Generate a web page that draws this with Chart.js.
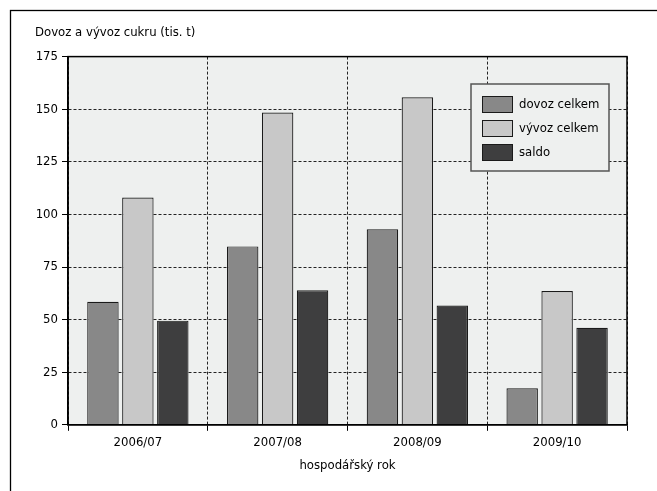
<!DOCTYPE html>
<html><head><meta charset="utf-8">
<script src="https://cdn.jsdelivr.net/npm/chart.js@4.4.0/dist/chart.umd.min.js"></script>
<style>html,body{margin:0;padding:0;background:#fff;}#wrap{width:657px;height:491px;}</style>
</head><body><div id="wrap"><canvas id="c" width="657" height="491"></canvas></div>
<script>
const categories = ['2006/07', '2007/08', '2008/09', '2009/10'];
const dovozCelkem = [58.5, 84.8, 92.9, 17.4];
const vyvozCelkem = [108, 148.4, 155.7, 63.6];
const saldo = [49.5, 63.9, 56.7, 46.1];
const seriesNames = ['dovoz celkem', 'vývoz celkem', 'saldo'];
const yTicks = [0, 25, 50, 75, 100, 125, 150, 175];
const titleText = 'Dovoz a vývoz cukru (tis. t)';
const xTitle = 'hospodářský rok';

const FONT = '"DejaVu Sans Condensed", "Liberation Sans Narrow", "Noto Sans", sans-serif';

const framePlugin = {
  id: 'framePlugin',
  beforeDraw(chart) {
    const ctx = chart.ctx, a = chart.chartArea;
    ctx.save();
    ctx.fillStyle = '#fff';
    ctx.fillRect(0, 0, chart.width, chart.height);
    ctx.strokeStyle = '#000';
    ctx.lineWidth = 1.3;
    ctx.strokeRect(10.5, 10.5, 800, 700);
    ctx.fillStyle = '#eef0ef';
    ctx.fillRect(a.left, a.top, a.right - a.left, a.bottom - a.top);
    ctx.restore();
  },
  afterDatasetsDraw(chart) {
    const ctx = chart.ctx, a = chart.chartArea;
    ctx.save();
    ctx.strokeStyle = '#000';
    ctx.lineWidth = 1.5;
    ctx.strokeRect(a.left, a.top, a.right - a.left, a.bottom - a.top);
    // legend
    const lx = 471, ly = 84, lw = 138, lh = 87;
    ctx.fillStyle = '#eef0ef';
    ctx.fillRect(lx, ly, lw, lh);
    ctx.strokeStyle = '#555';
    ctx.lineWidth = 1.5;
    ctx.strokeRect(lx, ly, lw, lh);
    ctx.font = '13px ' + FONT;
    ctx.textBaseline = 'middle';
    chart.data.datasets.forEach((ds, i) => {
      const sy = 96 + i * 24;
      ctx.fillStyle = ds.backgroundColor;
      ctx.fillRect(482, sy, 30, 16);
      ctx.strokeStyle = '#1a1a1a';
      ctx.lineWidth = 1;
      ctx.strokeRect(482.5, sy + 0.5, 30, 16);
      ctx.fillStyle = '#000';
      ctx.fillText(ds.label, 519, sy + 8.5);
    });
    ctx.restore();
  }
};

new Chart(document.getElementById('c'), {
  type: 'bar',
  data: {
    labels: categories,
    datasets: [
      { label: seriesNames[0], data: dovozCelkem, backgroundColor: '#888888' },
      { label: seriesNames[1], data: vyvozCelkem, backgroundColor: '#c8c8c8' },
      { label: seriesNames[2], data: saldo, backgroundColor: '#3e3e3f' }
    ]
  },
  options: {
    responsive: false,
    animation: false,
    devicePixelRatio: 1,
    layout: { padding: { left: 35, right: 30, top: 0, bottom: 5 } },
    datasets: { bar: { categoryPercentage: 0.75, barPercentage: 0.9, borderWidth: 1.2, borderColor: '#1a1a1a' } },
    plugins: {
      legend: { display: false },
      tooltip: { enabled: false },
      title: {
        display: true, text: titleText, align: 'start', color: '#000',
        font: { family: FONT, size: 13, weight: 'normal' },
        padding: { top: 25, bottom: 16 }
      }
    },
    scales: {
      x: {
        grid: { display: true, offset: true, color: '#222', lineWidth: 1, tickLength: 6, tickColor: '#000', tickBorderDash: [], drawTicks: true },
        border: { display: true, color: '#000', width: 1.5, dash: [3, 2] },
        ticks: { color: '#000', font: { family: FONT, size: 13 }, padding: 4 },
        title: { display: true, text: xTitle, color: '#000', font: { family: FONT, size: 13 }, padding: { top: 3, bottom: 13 } }
      },
      y: {
        min: 0, max: 175,
        afterFit(s) { s.width = 33; },
        afterBuildTicks(s) { s.ticks = yTicks.map(v => ({ value: v })); },
        grid: { color: '#222', lineWidth: 1, tickLength: 6, tickColor: '#000' },
        border: { display: true, color: '#000', width: 1.5, dash: [3, 2] },
        ticks: { color: '#000', font: { family: FONT, size: 13 }, padding: 4 }
      }
    }
  },
  plugins: [framePlugin]
});
</script></body></html>
